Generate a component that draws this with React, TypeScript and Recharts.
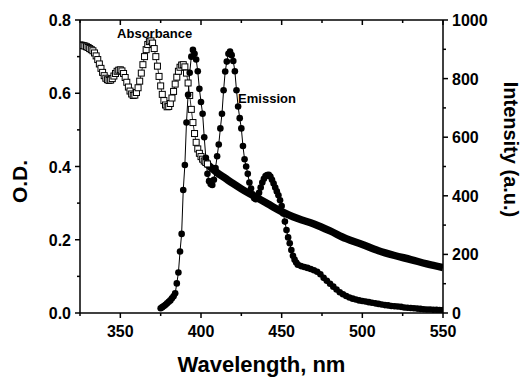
import { ComposedChart, Line, XAxis, YAxis, ReferenceDot } from 'recharts'

// absorbance (O.D.), open squares, 1 nm steps
const absorbanceNm = [
  325, 326, 327, 328, 329, 330, 331, 332, 333, 334, 335, 336, 337, 338, 339, 340, 341, 342, 343, 344,
  345, 346, 347, 348, 349, 350, 351, 352, 353, 354, 355, 356, 357, 358, 359, 360, 361, 362, 363, 364,
  365, 366, 367, 368, 369, 370, 371, 372, 373, 374, 375, 376, 377, 378, 379, 380, 381, 382, 383, 384,
  385, 386, 387, 388, 389, 390, 391, 392, 393, 394, 395, 396, 397, 398, 399, 400, 401, 402, 403, 404,
]
const absorbanceOD = [
  0.732, 0.731, 0.73, 0.729, 0.727, 0.725, 0.722, 0.719, 0.716, 0.71, 0.702, 0.692, 0.68, 0.668, 0.657, 0.648, 0.641, 0.637, 0.635, 0.636,
  0.64, 0.647, 0.654, 0.66, 0.663, 0.664, 0.661, 0.654, 0.643, 0.63, 0.617, 0.606, 0.598, 0.594, 0.595, 0.602, 0.615, 0.633, 0.655, 0.678,
  0.7, 0.719, 0.733, 0.741, 0.743, 0.737, 0.722, 0.7, 0.674, 0.646, 0.62, 0.597, 0.58, 0.568, 0.563, 0.564, 0.572, 0.587, 0.605, 0.625,
  0.644, 0.66, 0.671, 0.677, 0.678, 0.672, 0.655, 0.628, 0.594, 0.556, 0.52, 0.49, 0.466, 0.448, 0.436, 0.427, 0.42, 0.415, 0.411, 0.407,
]

// absorbance tail, where the squares pile up into a solid band
const tailNm = [402, 405, 410, 415, 420, 425, 430, 435, 440, 445, 450, 460, 470, 480, 490, 500, 510, 520, 530, 540, 550]
const tailOD = [0.415, 0.402, 0.383, 0.368, 0.353, 0.339, 0.326, 0.314, 0.302, 0.289, 0.277, 0.258, 0.243, 0.224, 0.203, 0.187, 0.17, 0.157, 0.146, 0.134, 0.124]

// emission intensity (a.u.), filled circles
const emissionNm = [
  375, 376, 377, 378, 379, 380, 381, 382, 383, 384, 385, 386, 387, 388, 389, 390, 391, 392, 393, 394,
  395, 396, 397, 398, 399, 400, 401, 402, 403, 404, 405, 406, 407, 408, 409, 410, 411, 412, 413, 414,
  415, 416, 417, 418, 419, 420, 421, 422, 423, 424, 425, 426, 427, 428, 429, 430, 431, 432, 433, 434,
  435, 436, 437, 438, 439, 440, 441, 442, 443, 444, 445, 446, 447, 448, 449, 450, 451, 452, 453, 454,
  455, 456, 457, 458, 459, 460, 462, 464, 466, 468, 470, 472, 474, 476, 478, 480, 482, 484, 486, 488,
  490, 492, 494, 496, 498, 500, 502, 504, 506, 508, 510, 512, 514, 516, 518, 520, 522, 524, 526, 528,
  530, 532, 534, 536, 538, 540, 542, 544, 546, 548, 550,
]
const emissionIntensity = [
  16, 20, 24, 28, 33, 38, 43, 50, 57, 67, 101, 138, 210, 270, 420, 505, 650, 745, 820, 875,
  898, 885, 865, 825, 765, 720, 680, 600, 530, 475, 450, 440, 437, 455, 495, 535, 575, 630, 680, 760,
  824, 858, 885, 892, 880, 860, 825, 760, 705, 665, 630, 570, 525, 500, 475, 445, 425, 405, 392, 388,
  395, 410, 428, 445, 458, 467, 471, 472, 466, 455, 442, 428, 415, 402, 385, 365, 340, 312, 283, 258,
  238, 215, 195, 182, 172, 165, 160, 157, 154, 150, 146, 141, 132, 120, 110, 100, 90, 80, 71, 64,
  58, 53, 49, 46, 43, 41, 39, 37, 35, 33, 31, 29, 27, 26, 24, 23, 22, 21, 19, 18,
  17, 16, 15, 14, 13, 12, 12, 11, 11, 10, 10,
]

const xTicks = [325, 350, 375, 400, 425, 450, 475, 500, 525, 550]
const odTicks = [0, 0.1, 0.2, 0.3, 0.4, 0.5, 0.6, 0.7, 0.8]
const intensityTicks = [0, 100, 200, 300, 400, 500, 600, 700, 800, 900, 1000]

const absorbanceData = absorbanceNm.map((nm, i) => ({ nm, od: absorbanceOD[i] }))
const tailData = tailNm.map((nm, i) => ({ nm, od: tailOD[i] }))
const emissionData = emissionNm.map((nm, i) => ({ nm, intensity: emissionIntensity[i] }))

const font = '"Liberation Sans", Arial, sans-serif'
const axisLine = { stroke: '#000', strokeWidth: 1.5 }

const SquareDot = (props: any) => {
  const { cx, cy } = props
  if (cx == null || cy == null) return null
  return <rect x={cx - 3} y={cy - 3} width={6} height={6} fill="#fff" stroke="#000" strokeWidth={1} />
}

const CircleDot = (props: any) => {
  const { cx, cy } = props
  if (cx == null || cy == null) return null
  return <circle cx={cx} cy={cy} r={3.3} fill="#000" />
}

const BottomTick = ({ x, y, payload }: any) => {
  const major = payload.value % 50 === 0
  return (
    <g>
      <line x1={x} x2={x} y1={y} y2={y + (major ? 5 : 3)} stroke="#000" strokeWidth={1.5} />
      {major && (
        <text x={x} y={y + 24} textAnchor="middle" fontFamily={font} fontWeight="bold" fontSize={16} fill="#000">
          {payload.value}
        </text>
      )}
    </g>
  )
}

const TopTick = ({ x, y, payload }: any) => {
  const major = payload.value % 50 === 0
  return <line x1={x} x2={x} y1={y} y2={y + (major ? 5 : 3)} stroke="#000" strokeWidth={1.5} />
}

const LeftTick = ({ x, y, payload }: any) => {
  const major = Math.round(payload.value * 10) % 2 === 0
  return (
    <g>
      <line x1={x - (major ? 5 : 3)} x2={x} y1={y} y2={y} stroke="#000" strokeWidth={1.5} />
      {major && (
        <text x={x - 9} y={y + 6} textAnchor="end" fontFamily={font} fontWeight="bold" fontSize={16} fill="#000">
          {payload.value.toFixed(1)}
        </text>
      )}
    </g>
  )
}

const RightTick = ({ x, y, payload }: any) => {
  const major = payload.value % 200 === 0
  return (
    <g>
      <line x1={x} x2={x + (major ? 5 : 3)} y1={y} y2={y} stroke="#000" strokeWidth={1.5} />
      {major && (
        <text x={x + 9} y={y + 6} textAnchor="start" fontFamily={font} fontWeight="bold" fontSize={16} fill="#000">
          {payload.value}
        </text>
      )}
    </g>
  )
}

const titleStyle = { fontFamily: font, fontWeight: 'bold' as const, fill: '#000' }

const WavelengthTitle = ({ viewBox }: any) => (
  <text x={viewBox.x + viewBox.width / 2} y={viewBox.y + 59} textAnchor="middle" fontSize={22} {...titleStyle}>
    Wavelength, nm
  </text>
)

const OdTitle = ({ viewBox }: any) => {
  const cx = viewBox.x + 19
  const cy = viewBox.y + viewBox.height / 2 + 15
  return (
    <text x={cx} y={cy} transform={`rotate(-90 ${cx} ${cy})`} textAnchor="middle" dominantBaseline="central" fontSize={21} {...titleStyle}>
      O.D.
    </text>
  )
}

const IntensityTitle = ({ viewBox }: any) => {
  const cx = viewBox.x + 68
  const cy = viewBox.y + viewBox.height / 2 - 17
  return (
    <text x={cx} y={cy} transform={`rotate(90 ${cx} ${cy})`} textAnchor="middle" dominantBaseline="central" fontSize={20} {...titleStyle}>
      Intensity (a.u.)
    </text>
  )
}

const noteLabel = (text: string) => ({ viewBox }: any) => (
  <text x={viewBox.x} y={viewBox.y} textAnchor="start" fontFamily={font} fontWeight="bold" fontSize={13} fill="#000">
    {text}
  </text>
)

export default function App() {
  return (
    <div style={{ position: 'absolute', left: 0, top: 0, width: 524, height: 377, background: '#fff' }}>
      <ComposedChart width={524} height={377} margin={{ top: 0, right: 0, bottom: 0, left: 0 }}>
        <XAxis
          xAxisId="bottom"
          dataKey="nm"
          type="number"
          domain={[325, 550]}
          ticks={xTicks}
          interval={0}
          allowDataOverflow
          height={64}
          tickSize={0}
          tickMargin={0}
          tickLine={false}
          axisLine={axisLine}
          tick={<BottomTick />}
          label={{ content: WavelengthTitle }}
        />
        <XAxis
          xAxisId="top"
          orientation="top"
          dataKey="nm"
          type="number"
          domain={[325, 550]}
          ticks={xTicks}
          interval={0}
          allowDataOverflow
          height={20}
          tickSize={0}
          tickMargin={0}
          tickLine={false}
          axisLine={axisLine}
          tick={<TopTick />}
        />
        <YAxis
          yAxisId="left"
          type="number"
          domain={[0, 0.8]}
          ticks={odTicks}
          interval={0}
          allowDataOverflow
          width={80}
          tickSize={0}
          tickMargin={0}
          tickLine={false}
          axisLine={axisLine}
          tick={<LeftTick />}
          label={{ content: OdTitle }}
        />
        <YAxis
          yAxisId="right"
          orientation="right"
          type="number"
          domain={[0, 1000]}
          ticks={intensityTicks}
          interval={0}
          allowDataOverflow
          width={81}
          tickSize={0}
          tickMargin={0}
          tickLine={false}
          axisLine={axisLine}
          tick={<RightTick />}
          label={{ content: IntensityTitle }}
        />
        <Line
          xAxisId="bottom"
          yAxisId="left"
          data={tailData}
          dataKey="od"
          type="monotone"
          stroke="#000"
          strokeWidth={7.5}
          dot={false}
          activeDot={false}
          isAnimationActive={false}
        />
        <Line
          xAxisId="bottom"
          yAxisId="left"
          data={absorbanceData}
          dataKey="od"
          type="linear"
          stroke="#000"
          strokeWidth={0.8}
          dot={<SquareDot />}
          activeDot={false}
          isAnimationActive={false}
        />
        <Line
          xAxisId="bottom"
          yAxisId="right"
          data={emissionData}
          dataKey="intensity"
          type="linear"
          stroke="#000"
          strokeWidth={1}
          dot={<CircleDot />}
          activeDot={false}
          isAnimationActive={false}
        />
        <ReferenceDot xAxisId="bottom" yAxisId="left" x={348} y={0.751} r={0} label={{ content: noteLabel('Absorbance') }} />
        <ReferenceDot xAxisId="bottom" yAxisId="left" x={423} y={0.573} r={0} label={{ content: noteLabel('Emission') }} />
      </ComposedChart>
    </div>
  )
}
